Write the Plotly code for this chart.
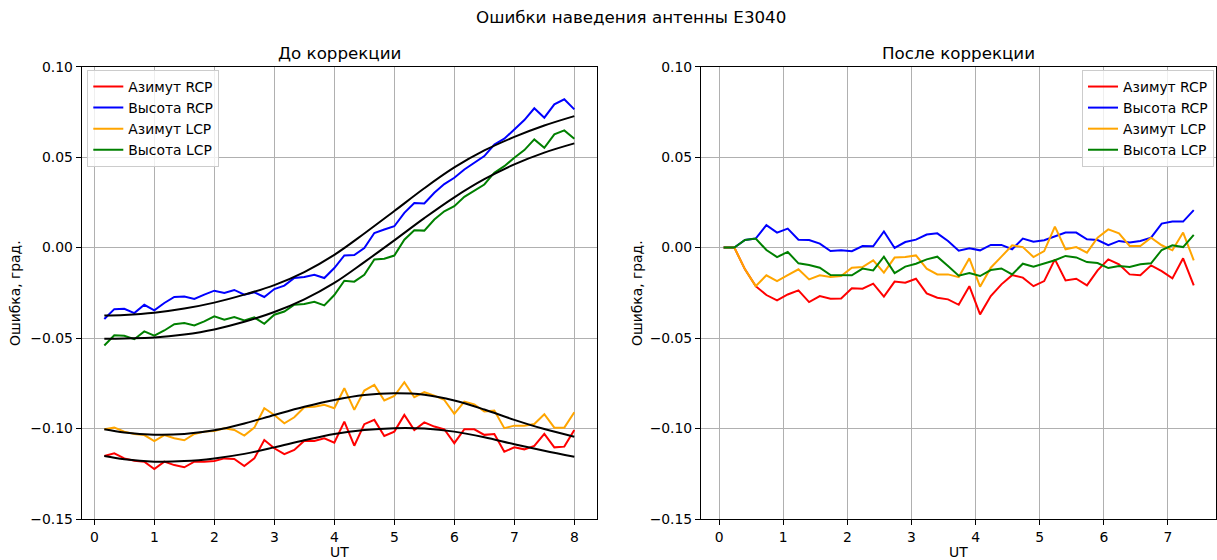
import plotly.graph_objects as go

# ---------------- data ----------------
ut_before = [0.167, 0.333, 0.5, 0.667, 0.833, 1.0, 1.167, 1.333, 1.5, 1.667,
             1.833, 2.0, 2.167, 2.333, 2.5, 2.667, 2.833, 3.0, 3.167, 3.333,
             3.5, 3.667, 3.833, 4.0, 4.167, 4.333, 4.5, 4.667, 4.833, 5.0,
             5.167, 5.333, 5.5, 5.667, 5.833, 6.0, 6.167, 6.333, 6.5, 6.667,
             6.833, 7.0, 7.167, 7.333, 7.5, 7.667, 7.833, 8.0]

az_rcp_before = [-0.1152, -0.1137, -0.1165, -0.1178, -0.1183, -0.1224, -0.1183, -0.1202, -0.1214, -0.1183,
                 -0.1183, -0.1179, -0.1165, -0.1168, -0.1207, -0.1165, -0.1063, -0.1109, -0.1142, -0.1118,
                 -0.1067, -0.1069, -0.1054, -0.1078, -0.0962, -0.1095, -0.0976, -0.0952, -0.1041, -0.1017,
                 -0.0925, -0.1008, -0.0966, -0.0989, -0.1004, -0.1081, -0.1004, -0.1004, -0.1035, -0.1030,
                 -0.1128, -0.1104, -0.1115, -0.1096, -0.1030, -0.1104, -0.1100, -0.1008]
el_rcp_before = [-0.0395, -0.0340, -0.0338, -0.0362, -0.0316, -0.0347, -0.0306, -0.0273, -0.0270, -0.0284,
                 -0.0260, -0.0238, -0.0251, -0.0234, -0.0260, -0.0247, -0.0273, -0.0229, -0.0210, -0.0168,
                 -0.0162, -0.0150, -0.0168, -0.0113, -0.0043, -0.0041, -0.0002, 0.0081, 0.0100, 0.0118,
                 0.0192, 0.0247, 0.0244, 0.0303, 0.0351, 0.0386, 0.0432, 0.0469, 0.0506, 0.0570,
                 0.0602, 0.0653, 0.0705, 0.0770, 0.0718, 0.0792, 0.0820, 0.0764]
az_lcp_before = [-0.1004, -0.0995, -0.1017, -0.1030, -0.1036, -0.1069, -0.1036, -0.1054, -0.1065, -0.1030,
                 -0.1017, -0.1013, -0.0998, -0.1008, -0.1039, -0.0995, -0.0888, -0.0925, -0.0971, -0.0938,
                 -0.0882, -0.0879, -0.0869, -0.0888, -0.0777, -0.0897, -0.0790, -0.0759, -0.0845, -0.0820,
                 -0.0744, -0.0827, -0.0799, -0.0818, -0.0842, -0.0919, -0.0851, -0.0866, -0.0906, -0.0901,
                 -0.0998, -0.0984, -0.0984, -0.0975, -0.0921, -0.0995, -0.0995, -0.0910]
el_lcp_before = [-0.0541, -0.0484, -0.0487, -0.0506, -0.0463, -0.0487, -0.0458, -0.0423, -0.0417, -0.0430,
                 -0.0408, -0.0380, -0.0399, -0.0384, -0.0402, -0.0386, -0.0421, -0.0371, -0.0353, -0.0316,
                 -0.0312, -0.0299, -0.0319, -0.0262, -0.0183, -0.0188, -0.0150, -0.0066, -0.0061, -0.0044,
                 0.0044, 0.0096, 0.0094, 0.0155, 0.0201, 0.0229, 0.0281, 0.0316, 0.0349, 0.0414,
                 0.0450, 0.0497, 0.0539, 0.0598, 0.0552, 0.0626, 0.0648, 0.0602]

# model fits (smooth black curves), read at half-hour steps
ut_fit = [0.167, 0.5, 1.0, 1.5, 2.0, 2.5, 3.0, 3.5, 4.0, 4.5, 5.0, 5.5, 6.0, 6.5, 7.0, 7.5, 8.0]
fit_az_rcp = [-0.1152, -0.1170, -0.1183, -0.1180, -0.1165, -0.1140, -0.1104, -0.1065, -0.1030,
              -0.1008, -0.0998, -0.1000, -0.1017, -0.1048, -0.1087, -0.1123, -0.1156]
fit_el_rcp = [-0.0375, -0.0372, -0.0360, -0.0337, -0.0304, -0.0260, -0.0207, -0.0135, -0.0040,
              0.0078, 0.0202, 0.0328, 0.0443, 0.0537, 0.0612, 0.0675, 0.0727]
fit_az_lcp = [-0.1004, -0.1022, -0.1034, -0.1030, -0.1010, -0.0972, -0.0925, -0.0880, -0.0842,
              -0.0815, -0.0805, -0.0813, -0.0845, -0.0895, -0.0952, -0.1003, -0.1045]
fit_el_lcp = [-0.0504, -0.0502, -0.0497, -0.0480, -0.0452, -0.0410, -0.0356, -0.0286, -0.0195,
              -0.0080, 0.0040, 0.0163, 0.0278, 0.0378, 0.0460, 0.0525, 0.0576]

ut_after = [0.07, 0.237, 0.403, 0.57, 0.737, 0.903, 1.07, 1.237, 1.403, 1.57,
            1.737, 1.903, 2.07, 2.237, 2.403, 2.57, 2.737, 2.903, 3.07, 3.237,
            3.403, 3.57, 3.737, 3.903, 4.07, 4.237, 4.403, 4.57, 4.737, 4.903,
            5.07, 5.237, 5.403, 5.57, 5.737, 5.903, 6.07, 6.237, 6.403, 6.57,
            6.737, 6.903, 7.07, 7.237, 7.403]

az_rcp_after = [0.0, 0.0, -0.0120, -0.0213, -0.0262, -0.0292, -0.0259, -0.0236, -0.0301, -0.0268,
                -0.0283, -0.0281, -0.0225, -0.0227, -0.0199, -0.0271, -0.0188, -0.0194, -0.0172, -0.0253,
                -0.0277, -0.0286, -0.0316, -0.0213, -0.0369, -0.0268, -0.0203, -0.0152, -0.0166, -0.0213,
                -0.0185, -0.0065, -0.0181, -0.0172, -0.0209, -0.0126, -0.0065, -0.0092, -0.0148, -0.0153,
                -0.0098, -0.0130, -0.0170, -0.0059, -0.0209]
el_rcp_after = [0.0, 0.0, 0.0042, 0.0050, 0.0124, 0.0083, 0.0105, 0.0044, 0.0042, 0.0022,
                -0.0019, -0.0015, -0.0020, 0.0009, 0.0007, 0.0089, -0.0002, 0.0031, 0.0044, 0.0072,
                0.0079, 0.0037, -0.0017, -0.0004, -0.0015, 0.0015, 0.0015, -0.0009, 0.0050, 0.0033,
                0.0041, 0.0064, 0.0083, 0.0083, 0.0046, 0.0042, 0.0013, 0.0037, 0.0028, 0.0037,
                0.0055, 0.0133, 0.0144, 0.0144, 0.0207]
az_lcp_after = [0.0, 0.0, -0.0120, -0.0213, -0.0153, -0.0185, -0.0152, -0.0120, -0.0176, -0.0153,
                -0.0163, -0.0157, -0.0111, -0.0107, -0.0070, -0.0138, -0.0055, -0.0052, -0.0043, -0.0116,
                -0.0148, -0.0148, -0.0163, -0.0059, -0.0216, -0.0111, -0.0050, 0.0013, 0.0003, -0.0052,
                -0.0019, 0.0116, -0.0009, 0.0003, -0.0028, 0.0055, 0.0101, 0.0079, 0.0009, 0.0009,
                0.0055, 0.0013, -0.0015, 0.0083, -0.0070]
el_lcp_after = [0.0, 0.0, 0.0042, 0.0050, -0.0013, -0.0052, -0.0024, -0.0087, -0.0096, -0.0111,
                -0.0152, -0.0153, -0.0153, -0.0116, -0.0126, -0.0050, -0.0141, -0.0105, -0.0089, -0.0065,
                -0.0050, -0.0102, -0.0155, -0.0141, -0.0157, -0.0124, -0.0115, -0.0148, -0.0089, -0.0105,
                -0.0087, -0.0070, -0.0046, -0.0054, -0.0080, -0.0085, -0.0113, -0.0102, -0.0107, -0.0092,
                -0.0087, -0.0013, 0.0013, 0.0003, 0.0070]

series_names = ["Азимут RCP", "Высота RCP", "Азимут LCP", "Высота LCP"]
series_colors = ["#ff0000", "#0000ff", "#ffa500", "#008000"]
x_ticks_before = [0, 1, 2, 3, 4, 5, 6, 7, 8]
x_ticks_after = [0, 1, 2, 3, 4, 5, 6, 7]
y_ticks = [-0.15, -0.10, -0.05, 0.0, 0.05, 0.10]

FONT = "DejaVu Sans"
W, H = 1217, 560

fig = go.Figure()

before = [az_rcp_before, el_rcp_before, az_lcp_before, el_lcp_before]
after = [az_rcp_after, el_rcp_after, az_lcp_after, el_lcp_after]

for name, col, ys in zip(series_names, series_colors, before):
    fig.add_trace(go.Scatter(x=ut_before, y=ys, mode="lines", name=name,
                             line=dict(color=col, width=2), xaxis="x", yaxis="y",
                             legend="legend"))
for ys in [fit_az_rcp, fit_el_rcp, fit_az_lcp, fit_el_lcp]:
    fig.add_trace(go.Scatter(x=ut_fit, y=ys, mode="lines", showlegend=False,
                             line=dict(color="black", width=2, shape="spline", smoothing=1.0),
                             xaxis="x", yaxis="y"))
for name, col, ys in zip(series_names, series_colors, after):
    fig.add_trace(go.Scatter(x=ut_after, y=ys, mode="lines", name=name,
                             line=dict(color=col, width=2), xaxis="x2", yaxis="y2",
                             legend="legend2"))

axis_common = dict(showline=True, mirror=True, linecolor="black", linewidth=1,
                   ticks="outside", ticklen=5, tickwidth=1, tickcolor="black",
                   showgrid=True, gridcolor="#b0b0b0", gridwidth=1, zeroline=False,
                   automargin=False,
                   tickfont=dict(family=FONT, size=13.9, color="black"))

yd = [41 / H, (H - 66.7) / H]
fig.update_layout(
    width=W, height=H,
    margin=dict(l=0, r=0, t=0, b=0, pad=0, autoexpand=False),
    paper_bgcolor="white", plot_bgcolor="white",
    font=dict(family=FONT, size=13.9, color="black"),
    xaxis=dict(domain=[81.7 / W, 596.7 / W], range=[-0.21, 8.373],
               tickvals=x_ticks_before, anchor="y", **axis_common),
    yaxis=dict(domain=yd, range=[-0.15, 0.10], tickvals=y_ticks, tickformat=".2f",
               anchor="x", **axis_common),
    xaxis2=dict(domain=[701 / W, 1216 / W], range=[-0.283, 7.75],
                tickvals=x_ticks_after, anchor="y2", **axis_common),
    yaxis2=dict(domain=yd, range=[-0.15, 0.10], tickvals=y_ticks, tickformat=".2f",
                anchor="x2", **axis_common),
    legend=dict(x=87.3 / W, y=1 - 70 / H, xanchor="left", yanchor="top",
                bgcolor="rgba(255,255,255,0.8)", bordercolor="#cccccc", borderwidth=1,
                font=dict(family=FONT, size=13.9, color="black")),
    legend2=dict(x=1214 / W, y=1 - 70 / H, xanchor="right", yanchor="top",
                 bgcolor="rgba(255,255,255,0.8)", bordercolor="#cccccc", borderwidth=1,
                 font=dict(family=FONT, size=13.9, color="black")),
    showlegend=True,
)

def ann(text, x, y, size, angle=0):
    fig.add_annotation(text=text, x=x / W, y=1 - y / H, xref="paper", yref="paper",
                       showarrow=False, xanchor="center", yanchor="middle",
                       textangle=angle, font=dict(family=FONT, size=size, color="black"))

ann("Ошибки наведения антенны E3040", 630.8, 17, 16.7)
ann("До коррекции", (81.7 + 596.7) / 2, 53, 16.7)
ann("После коррекции", (701 + 1216) / 2, 53, 16.7)
ann("UT", (81.7 + 596.7) / 2, 552, 13.9)
ann("UT", (701 + 1216) / 2, 552, 13.9)
ann("Ошибка, град.", 15, 293, 13.9, -90)
ann("Ошибка, град.", 637, 293, 13.9, -90)

fig.write_html("out.html")
